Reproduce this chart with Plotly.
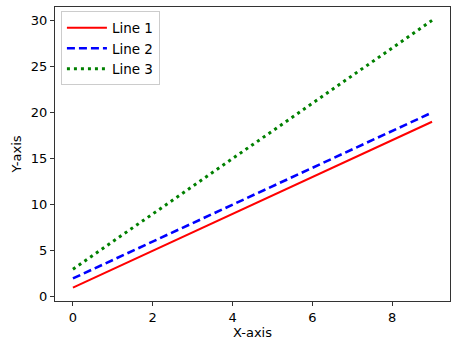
import plotly.graph_objects as go

x_vals = [0, 1, 2, 3, 4, 5, 6, 7, 8, 9]
line1 = [1, 3, 5, 7, 9, 11, 13, 15, 17, 19]
line2 = [2, 4, 6, 8, 10, 12, 14, 16, 18, 20]
line3 = [3, 6, 9, 12, 15, 18, 21, 24, 27, 30]

fig = go.Figure()
fig.add_trace(go.Scatter(x=x_vals, y=line1, mode="lines", name="Line 1",
                         line=dict(color="red", width=2, dash="solid")))
fig.add_trace(go.Scatter(x=x_vals, y=line2, mode="lines", name="Line 2",
                         line=dict(color="blue", width=2.6, dash="8px,4px")))
fig.add_trace(go.Scatter(x=x_vals, y=line3, mode="lines", name="Line 3",
                         line=dict(color="green", width=3, dash="3px,4px")))

axis_common = dict(
    showgrid=False, zeroline=False, showline=True, mirror=True,
    linecolor="#333", linewidth=1, ticks="outside", ticklen=4,
    tickcolor="#333", tickfont=dict(family="DejaVu Sans", size=13, color="black"),
)

fig.update_layout(
    width=474, height=350,
    margin=dict(l=55, r=24, t=7, b=49),
    paper_bgcolor="white", plot_bgcolor="white",
    font=dict(family="DejaVu Sans", size=13, color="black"),
    xaxis=dict(range=[-0.45, 9.45], tickvals=[0, 2, 4, 6, 8],
               title=dict(text="X-axis", font=dict(size=13), standoff=4),
               **axis_common),
    yaxis=dict(range=[-0.45, 31.45], tickvals=[0, 5, 10, 15, 20, 25, 30],
               title=dict(text="Y-axis", font=dict(size=13), standoff=6),
               **axis_common),
    legend=dict(x=0.015, y=0.985, xanchor="left", yanchor="top",
                bgcolor="rgba(255,255,255,0.8)", bordercolor="#ccc", borderwidth=1,
                font=dict(size=13.5), itemwidth=40, tracegroupgap=0),
    showlegend=True,
)

fig.write_html("out.html")
